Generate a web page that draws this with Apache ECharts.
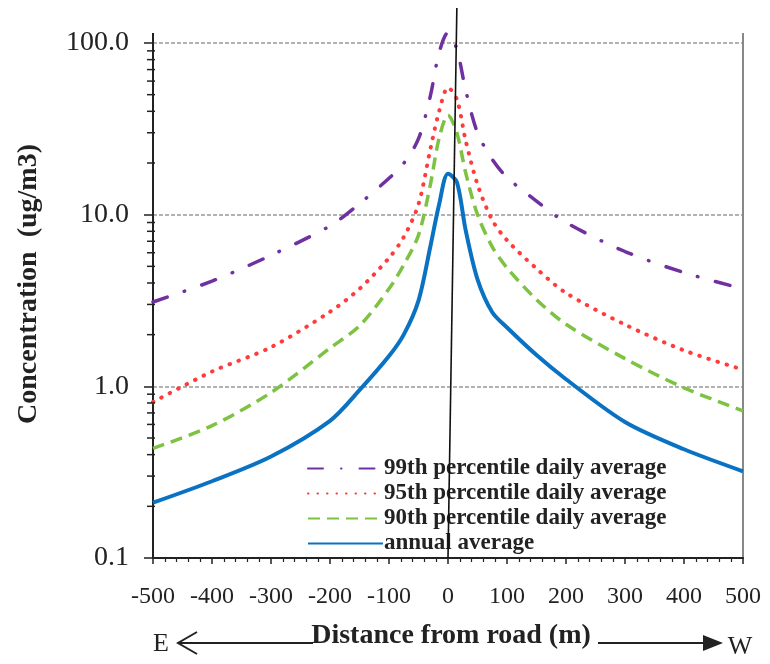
<!DOCTYPE html>
<html><head><meta charset="utf-8">
<script src="https://cdn.jsdelivr.net/npm/echarts@6/dist/echarts.min.js"></script>
<style>html,body{margin:0;padding:0;background:#fff}#c{width:770px;height:664px}</style>
</head><body><div id="c"></div>
<script>
// ---- data ----
const distances = [-500,-400,-300,-200,-150,-100,-75,-50,-30,-15,0,15,30,50,75,100,150,200,300,400,500];
const p99 = [3.1,4.1,5.8,8.6,11.6,16.3,19.9,27.7,49,88,115,92,53,30,21,16.5,12,9.0,6.1,4.6,3.7];
const p95 = [0.81,1.22,1.69,2.72,3.7,5.6,7.4,11.5,24,40,55,47,27,15,9.3,7.1,4.85,3.5,2.29,1.62,1.25];
const p90 = [0.435,0.59,0.92,1.67,2.25,3.7,5.1,7.6,14.9,28,38,30,17.5,10,6.5,4.9,3.2,2.3,1.45,0.98,0.72];
const annual = [0.21,0.28,0.39,0.63,0.95,1.5,2.0,3.16,6.5,11.5,17.3,15.5,8.1,4.2,2.7,2.2,1.52,1.1,0.62,0.43,0.32];
const seriesNames = ['99th percentile daily average','95th percentile daily average','90th percentile daily average','annual average'];
const yTickValues = [0.1,1,10,100];
const yTickLabels = ['0.1','1.0','10.0','100.0'];
const yMinorValues = [0.2,0.3,0.4,0.5,0.6,0.7,0.8,0.9,2,3,4,5,6,7,8,9,20,30,40,50,60,70,80,90];
const xTicks = [-500,-400,-300,-200,-100,0,100,200,300,400,500];
const roadLine = [[0,0.1],[15,160]];

const serif = '"Liberation Serif", "DejaVu Serif", serif';
function pairs(ys){ return distances.map((x,i)=>[x, ys[i]]); }

const chart = echarts.init(document.getElementById('c'), null, {renderer:'canvas'});
const mkSeries = (name, ys, color, width, type, cap) => ({
  name, type:'line', data:pairs(ys), xAxisIndex:0, yAxisIndex:0,
  showSymbol:false, symbol:'none', smooth:0.3, clip:false,
  lineStyle:{color, width, type, cap: cap||'butt'}, itemStyle:{color},
  emphasis:{disabled:true}, z:3
});

const option = {
  animation:false,
  backgroundColor:'#fff',
  grid:{left:153, right:27, top:43, bottom:106, containLabel:false},
  xAxis:{
    type:'value', min:-500, max:500, interval:100,
    axisLine:{show:true, onZero:false, lineStyle:{color:'#222', width:2}},
    axisTick:{show:true, inside:false, length:6, lineStyle:{color:'#222', width:1.5}},
    minorTick:{show:true, splitNumber:5, length:4, lineStyle:{color:'#222', width:1.2}},
    splitLine:{show:false},
    axisLabel:{fontFamily:serif, fontSize:24, color:'#222', margin:27,
      formatter:v=> xTicks.includes(v) ? String(v) : ''}
  },
  yAxis:[
    {
      type:'log', logBase:10, min:0.1, max:100, position:'left',
      axisLine:{show:true, onZero:false, lineStyle:{color:'#222', width:2}},
      axisTick:{show:true, length:9, lineStyle:{color:'#222', width:1.5}},
      splitLine:{show:true, lineStyle:{color:'#999', width:1.5, type:[4,2]}},
      axisLabel:{fontFamily:serif, fontSize:28, color:'#222', margin:24,
        formatter:v=>{ const i = yTickValues.findIndex(t=>Math.abs(Math.log10(v)-Math.log10(t))<1e-6); return i>=0 ? yTickLabels[i] : ''; }}
    },
    {
      type:'log', logBase:10, min:0.1, max:100, position:'right', offset:0,
      axisLine:{show:true, onZero:false, lineStyle:{color:'#888', width:2}}, splitLine:{show:false},
      axisLabel:{show:false}, axisTick:{show:false}
    }
  ],
  legend:{
    data:seriesNames, orient:'vertical', left:302, top:451,
    itemWidth:75, itemHeight:12, itemGap:0,
    itemStyle:{color:'transparent', borderWidth:0},
    textStyle:{fontFamily:serif, fontSize:23, fontWeight:'bold', lineHeight:25, color:'#222', padding:[0,0,0,-4]}
  },
  series:[
    mkSeries(seriesNames[0], p99, '#7030A0', 3.5, [15,18,0.5,18], 'round'),
    mkSeries(seriesNames[1], p95, '#FF3B3B', 4, [0.5,9], 'round'),
    mkSeries(seriesNames[2], p90, '#7DC242', 3.5, [12,7]),
    mkSeries(seriesNames[3], annual, '#0A72C2', 4, 'solid'),
    {
      type:'custom', name:'minorTicks', xAxisIndex:0, yAxisIndex:0, clip:false, silent:true, z:5,
      data: yMinorValues.map(v=>[-500, v]),
      renderItem:(params, api)=>{
        const p = api.coord([api.value(0), api.value(1)]);
        return {type:'line', shape:{x1:p[0]-6, y1:p[1], x2:p[0]+2, y2:p[1]}, style:{stroke:'#222', lineWidth:1.5}};
      }
    }
  ]
};
chart.setOption(option);

const a = chart.convertToPixel({xAxisIndex:0, yAxisIndex:0}, roadLine[0]);
const b = chart.convertToPixel({xAxisIndex:0, yAxisIndex:0}, roadLine[1]);
const tl = chart.convertToPixel({xAxisIndex:0, yAxisIndex:0}, [-500, 100]);
const tr = chart.convertToPixel({xAxisIndex:0, yAxisIndex:0}, [500, 100]);
chart.setOption({
  graphic:[
    {type:'line', shape:{x1:a[0], y1:a[1], x2:b[0], y2:b[1]}, style:{stroke:'#111', lineWidth:1.6}, z:10},
    {type:'line', shape:{x1:tl[0], y1:tl[1], x2:tl[0], y2:tl[1]-10}, style:{stroke:'#222', lineWidth:2}},
    {type:'line', shape:{x1:tr[0], y1:tr[1], x2:tr[0], y2:tr[1]-10}, style:{stroke:'#888', lineWidth:2}},
    {type:'text', x:29, y:284, rotation:Math.PI/2,
      style:{text:'Concentration  (ug/m3)', font:'bold 28px '+serif, fill:'#222', textAlign:'center', textVerticalAlign:'middle'}},
    {type:'text', x:451, y:636,
      style:{text:'Distance from road (m)', font:'bold 28px '+serif, fill:'#222', textAlign:'center', textVerticalAlign:'middle'}},
    {type:'text', x:161, y:644,
      style:{text:'E', font:'26px '+serif, fill:'#222', textAlign:'center', textVerticalAlign:'middle'}},
    {type:'text', x:740, y:647,
      style:{text:'W', font:'26px '+serif, fill:'#222', textAlign:'center', textVerticalAlign:'middle'}},
    {type:'polyline', shape:{points:[[197,632],[178,643],[197,654]]}, style:{stroke:'#222', lineWidth:2, fill:null}},
    {type:'line', shape:{x1:178, y1:643, x2:313, y2:643}, style:{stroke:'#222', lineWidth:2}},
    {type:'line', shape:{x1:598, y1:643, x2:706, y2:643}, style:{stroke:'#222', lineWidth:2}},
    {type:'polygon', shape:{points:[[703,635],[723,643],[703,651]]}, style:{fill:'#222'}}
  ]
});
</script>
</body></html>
